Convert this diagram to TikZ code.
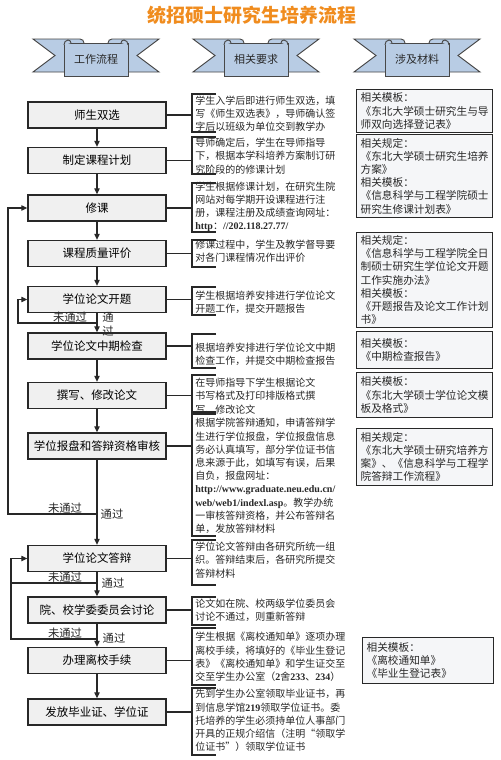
\documentclass[tikz,border=0pt]{standalone}
\usepackage{fontspec}
\setmainfont{Noto Sans CJK SC}
\newfontfamily\lser{Liberation Serif}
\usetikzlibrary{arrows.meta}
\definecolor{titleor}{RGB}{240,140,30}
\definecolor{ribbon}{RGB}{184,204,228}
\definecolor{boxfill}{RGB}{240,240,240}
\definecolor{rfill}{RGB}{245,246,248}
\definecolor{ink}{RGB}{40,40,40}
\newcommand\brk[2]{\draw[ln] (216,#1) -- (192,#1) -- (192,#2) -- (216,#2);}
\tikzset{
  ln/.style={line width=0.8pt, draw=ink},
  arr/.style={ln, -{Triangle[length=4.5pt,width=4pt]}},
  wbox/.style={draw=ink, line width=1pt, fill=boxfill, minimum width=103.5pt,
    minimum height=19.5pt, inner sep=0pt, font=\fontsize{8.6pt}{10pt}\selectfont},
  mtext/.style={anchor=west, align=left, inner sep=0pt, text=ink,
    font=\fontsize{7.5pt}{9.9pt}\selectfont},
  rbox/.style={draw=ink, line width=0.9pt, fill=rfill, align=left, anchor=north west,
    text width=96pt, inner xsep=3pt, inner ysep=0pt, text=ink,
    font=\fontsize{8pt}{9.9pt}\selectfont},
  lab/.style={inner sep=0pt, text=ink, font=\fontsize{8.5pt}{10pt}\selectfont},
  ribbonfill/.style={draw=ink!85, line width=0.7pt, fill=ribbon},
  pics/banner/.style={code={
    \draw[ribbonfill] (-63,39) -- (-16,39) to[out=0,in=90] (-12,43) -- (-12,72)
      -- (-63,72) -- (-41,55.5) -- cycle;
    \draw[ribbonfill] (63,39) -- (16,39) to[out=180,in=90] (12,43) -- (12,72)
      -- (63,72) -- (41,55.5) -- cycle;
    \draw[ribbonfill] (-32,43) rectangle (32,76);
    \draw[ribbonfill] (-32,45) to[out=90,in=180] (-28,40) to[out=0,in=90] (-25,43);
    \draw[ribbonfill] (32,45) to[out=90,in=0] (28,40) to[out=180,in=90] (25,43);
    \node[inner sep=0pt, text=ink, font=\fontsize{8.25pt}{10pt}\selectfont] (-label) at (0,59.5) {#1};
  }}
}
\begin{document}
\begin{tikzpicture}[x=0.75pt,y=-0.75pt]
\useasboundingbox (0,0) rectangle (500,760);
\fill[white] (0,0) rectangle (500,760);

% title
\node[inner sep=0pt, text=titleor, font=\fontsize{14.2pt}{16pt}\selectfont\bfseries] (title) at (252,15) {统招硕士研究生培养流程};

% banners
\pic (h1) at (96,0) {banner=工作流程};
\pic (h2) at (256,0) {banner=相关要求};
\pic (h3) at (417,0) {banner=涉及材料};

% work-flow boxes
\node[wbox] (b1) at (97,115) {师生双选};
\node[wbox] (b2) at (97,160.5) {制定课程计划};
\node[wbox] (b3) at (97,208) {修课};
\node[wbox] (b4) at (97,253.5) {课程质量评价};
\node[wbox] (b5) at (97,299.5) {学位论文开题};
\node[wbox] (b6) at (97,346) {学位论文中期检查};
\node[wbox] (b7) at (97,395.5) {撰写、修改论文};
\node[wbox] (b8) at (97,446) {学位报盘和答辩资格审核};
\node[wbox] (b9) at (97,558.5) {学位论文答辩};
\node[wbox] (b10) at (97,610) {院、校学委委员会讨论};
\node[wbox] (b11) at (97,660.5) {办理离校手续};
\node[wbox] (b12) at (97,712) {发放毕业证、学位证};

% main arrows
\draw[arr] (b1) -- (b2);
\draw[arr] (b2) -- (b3);
\draw[arr] (b3) -- (b4);
\draw[arr] (b4) -- (b5);
\draw[arr] (b5) -- (b6);
\draw[arr] (b6) -- (b7);
\draw[arr] (b7) -- (b8);
\draw[arr] (b8) -- (b9);
\draw[arr] (b9) -- (b10);
\draw[arr] (b10) -- (b11);
\draw[arr] (b11) -- (b12);

% loops
\coordinate (j5) at (97,323);
\coordinate (l5) at (18,323);
\draw[arr] (j5) -- (l5) |- (b5.west);
\coordinate (j8) at (97,514);
\coordinate (l8) at (8,514);
\draw[arr] (j8) -- (l8) |- (b3.west);
\coordinate (j9) at (97,583);
\coordinate (l9) at (11,583);
\coordinate (j10) at (97,639);
\coordinate (l10) at (11,639);
\draw[ln] (j9) -- (l9);
\draw[arr] (j10) -- (l10) |- (b9.west);

% loop labels
\node[lab] (n5) at (70,317) {未通过};
\node[lab] (p5a) at (108,317) {通};
\node[lab] (p5b) at (108,331) {过};
\node[lab] (n8) at (65,508) {未通过};
\node[lab] (p8) at (112,514) {通过};
\node[lab] (n9) at (65,577) {未通过};
\node[lab] (p9) at (113,583) {通过};
\node[lab] (n10) at (65,633) {未通过};
\node[lab] (p10) at (114,638) {通过};

% connectors to requirement brackets
\coordinate (bx) at (192,0);
\foreach \i in {1,...,12}{\draw[ln] (b\i.east) -- (b\i.east -| bx);}

% brackets
\brk{94}{132}
\brk{137}{174}
\brk{183}{232}
\brk{240}{267}
\brk{287}{315}
\brk{334}{368}
\brk{375}{412}
\brk{414}{536}
\brk{540}{585}
\brk{597}{625}
\brk{628}{685}
\brk{688}{755}

% requirement texts
\node[mtext] (t1) at (195,113.5) {学生入学后即进行师生双选，填\\写《师生双选表》，导师确认签\\字后以班级为单位交到教学办};
\node[mtext] (t2) at (195,156) {导师确定后，学生在导师指导\\下，根据本学科培养方案制订研\\究阶段的的修课计划};
\node[mtext] (t3) at (195,207) {学生根据修课计划，在研究生院\\网站对每学期开设课程进行注\\册，课程注册及成绩查询网址：\\{\lser\bfseries http}：{\lser\bfseries //202.118.27.77/}};
\node[mtext] (t4) at (195,251.5) {修课过程中，学生及教学督导要\\对各门课程情况作出评价};
\node[mtext] (t5) at (195,302.5) {学生根据培养安排进行学位论文\\开题工作，提交开题报告};
\node[mtext] (t6) at (195,354.5) {根据培养安排进行学位论文中期\\检查工作，并提交中期检查报告};
\node[mtext] (t7) at (195,396) {在导师指导下学生根据论文\\书写格式及打印排版格式撰\\写、修改论文};
\node[mtext] (t8) at (195,476) {根据学院答辩通知，申请答辩学\\生进行学位报盘，学位报盘信息\\务必认真填写，部分学位证书信\\息来源于此，如填写有误，后果\\自负，报盘网址：\\{\lser\bfseries http://www.graduate.neu.edu.cn/}\\{\lser\bfseries web/web1/indexl.asp}。教学办统\\一审核答辩资格，并公布答辩名\\单，发放答辩材料};
\node[mtext] (t9) at (195,560) {学位论文答辩由各研究所统一组\\织。答辩结束后，各研究所提交\\答辩材料};
\node[mtext] (t10) at (195,610.5) {论文如在院、校两级学位委员会\\讨论不通过，则重新答辩};
\node[mtext] (t11) at (195,657) {学生根据《离校通知单》逐项办理\\离校手续，将填好的《毕业生登记\\表》《离校通知单》和学生证交至\\交至学生办公室（{\lser\bfseries 2}舍{\lser\bfseries 233}、{\lser\bfseries 234}）};
\node[mtext] (t12) at (195,720.5) {先到学生办公室领取毕业证书，再\\到信息学馆{\lser\bfseries 219}领取学位证书。委\\托培养的学生必须持单位人事部门\\开具的正规介绍信（注明“领取学\\位证书”）领取学位证书};

% material boxes
\node[rbox, minimum height={43*0.75pt}] (r1) at (356,89) {相关模板：\\《东北大学硕士研究生与导\\师双向选择登记表》};
\node[rbox, minimum height={83*0.75pt}] (r2) at (356,134) {相关规定：\\《东北大学硕士研究生培养\\方案》\\相关模板：\\《信息科学与工程学院硕士\\研究生修课计划表》};
\node[rbox, minimum height={95*0.75pt}] (r3) at (356,232) {相关规定：\\《信息科学与工程学院全日\\制硕士研究生学位论文开题\\工作实施办法》\\相关模板：\\《开题报告及论文工作计划\\书》};
\node[rbox, minimum height={37*0.75pt}] (r4) at (356,331) {相关模板：\\《中期检查报告》};
\node[rbox, minimum height={45*0.75pt}] (r5) at (356,372) {相关模板：\\《东北大学硕士学位论文模\\板及格式》};
\node[rbox, minimum height={57*0.75pt}] (r6) at (356,428) {相关规定：\\《东北大学硕士研究培养方\\案》、《信息科学与工程学\\院答辩工作流程》};
\node[rbox, text width=92pt, minimum height={46*0.75pt}] (r7) at (362,637) {相关模板：\\《离校通知单》\\《毕业生登记表》};
\end{tikzpicture}
\end{document}
